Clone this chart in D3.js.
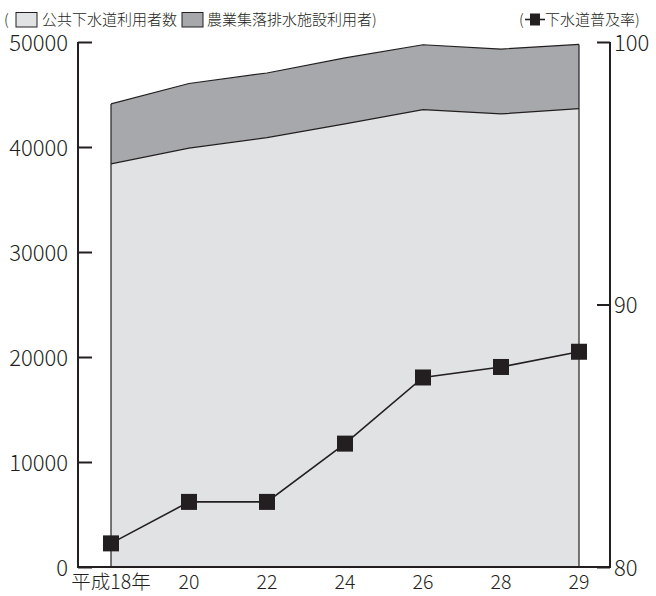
<!DOCTYPE html>
<html><head><meta charset="utf-8">
<script src="https://cdn.jsdelivr.net/npm/d3@7"></script>
<style>
html,body{margin:0;padding:0;background:#fff;}
svg{display:block;font-family:"Noto Sans CJK JP","Noto Sans",sans-serif;}
</style></head>
<body>
<svg id="chart" width="656" height="596"></svg>
<script>
const years = ["平成18年","20","22","24","26","28","29"];
const publicUsers = [38400, 39900, 40900, 42200, 43550, 43150, 43650];
const ruralUsers = [5700, 6150, 6150, 6280, 6190, 6180, 6120];
const sewerRate = [80.9, 82.48, 82.48, 84.7, 87.22, 87.62, 88.2];
const leftTicks = [0, 10000, 20000, 30000, 40000, 50000];
const rightTicks = [80, 90, 100];
const seriesNames = ["公共下水道利用者数", "農業集落排水施設利用者", "下水道普及率"];

const ink = "#231f20";
const lightFill = "#e1e2e4";
const darkFill = "#a7a8ac";

const svg = d3.select("#chart");
const x = d3.scalePoint().domain(years).range([111, 579]);
const yL = d3.scaleLinear().domain([0, 50000]).range([567, 42]);
const yR = d3.scaleLinear().domain([80, 100]).range([567, 42]);

const data = years.map((yr, i) => ({yr, pub: publicUsers[i], tot: publicUsers[i] + ruralUsers[i], rate: sewerRate[i]}));

// areas
const areaTop = d3.area().x(d => x(d.yr)).y0(d => yL(d.pub)).y1(d => yL(d.tot));
const areaBot = d3.area().x(d => x(d.yr)).y0(yL(0)).y1(d => yL(d.pub));
svg.append("path").datum(data).attr("d", areaBot).attr("fill", lightFill);
svg.append("path").datum(data).attr("d", areaTop).attr("fill", darkFill);
// outlines
const lineTot = d3.line().x(d => x(d.yr)).y(d => yL(d.tot));
const linePub = d3.line().x(d => x(d.yr)).y(d => yL(d.pub));
svg.append("path").datum(data).attr("d", lineTot).attr("fill", "none").attr("stroke", ink).attr("stroke-width", 1.2);
svg.append("path").datum(data).attr("d", linePub).attr("fill", "none").attr("stroke", ink).attr("stroke-width", 1.2);
[data[0], data[data.length - 1]].forEach(d => {
  svg.append("line").attr("x1", x(d.yr)).attr("x2", x(d.yr)).attr("y1", yL(0)).attr("y2", yL(d.tot))
    .attr("stroke", ink).attr("stroke-width", 1.2);
});

// axes
const axisL = svg.append("g").attr("transform", "translate(78,0)")
  .call(d3.axisRight(yL).tickValues(leftTicks).tickSize(14).tickFormat(""));
const axisR = svg.append("g").attr("transform", "translate(610,0)")
  .call(d3.axisLeft(yR).tickValues(rightTicks).tickSize(13).tickFormat(""));
[axisL, axisR].forEach(g => {
  g.select(".domain").attr("stroke", ink).attr("stroke-width", 2);
  g.selectAll(".tick line").attr("stroke", ink).attr("stroke-width", 2);
});
axisL.select(".domain").attr("d", "M0,42V567");
axisR.select(".domain").attr("d", "M0,42V567");
svg.append("line").attr("x1", 77).attr("x2", 611).attr("y1", yL(0)).attr("y2", yL(0))
  .attr("stroke", ink).attr("stroke-width", 2.2);

// tick labels
svg.append("g").selectAll("text").data(leftTicks).join("text")
  .attr("x", 68).attr("y", d => yL(d) + 3).attr("text-anchor", "end").attr("dominant-baseline", "middle")
  .attr("font-size", 22).attr("font-weight", 300).attr("fill", ink).text(d => d);
svg.append("g").selectAll("text").data(rightTicks).join("text")
  .attr("x", 614).attr("y", d => yR(d) + 3).attr("text-anchor", "start").attr("dominant-baseline", "middle")
  .attr("font-size", 22).attr("font-weight", 300).attr("fill", ink).text(d => d);
svg.append("g").selectAll("text").data(years).join("text")
  .attr("x", d => x(d)).attr("y", 589).attr("text-anchor", "middle")
  .attr("font-size", 19.5).attr("font-weight", 300).attr("fill", ink).text(d => d);

// rate line + markers
const lineRate = d3.line().x(d => x(d.yr)).y(d => yR(d.rate));
svg.append("path").datum(data).attr("d", lineRate).attr("fill", "none").attr("stroke", ink).attr("stroke-width", 1.6);
svg.append("g").selectAll("rect").data(data).join("rect")
  .attr("x", d => x(d.yr) - 8).attr("y", d => yR(d.rate) - 8).attr("width", 16).attr("height", 16)
  .attr("fill", ink);

// legend
const lg = svg.append("g").attr("font-size", 15).attr("font-weight", 300).attr("fill", ink);
lg.append("text").attr("x", 4).attr("y", 25).text("(");
lg.append("rect").attr("x", 16).attr("y", 12.5).attr("width", 21).attr("height", 14.5)
  .attr("fill", lightFill).attr("stroke", ink).attr("stroke-width", 1);
lg.append("text").attr("x", 42).attr("y", 25).text(seriesNames[0]);
lg.append("rect").attr("x", 182).attr("y", 12.5).attr("width", 21).attr("height", 14.5)
  .attr("fill", darkFill).attr("stroke", ink).attr("stroke-width", 1);
lg.append("text").attr("x", 207).attr("y", 25).text(seriesNames[1] + ")");
lg.append("text").attr("x", 519).attr("y", 25).text("(");
lg.append("line").attr("x1", 525).attr("x2", 545).attr("y1", 19.5).attr("y2", 19.5).attr("stroke", ink).attr("stroke-width", 1.6);
lg.append("rect").attr("x", 530).attr("y", 13.5).attr("width", 10).attr("height", 12).attr("fill", ink);
lg.append("text").attr("x", 545).attr("y", 25).text(seriesNames[2] + ")");
</script>
</body></html>
